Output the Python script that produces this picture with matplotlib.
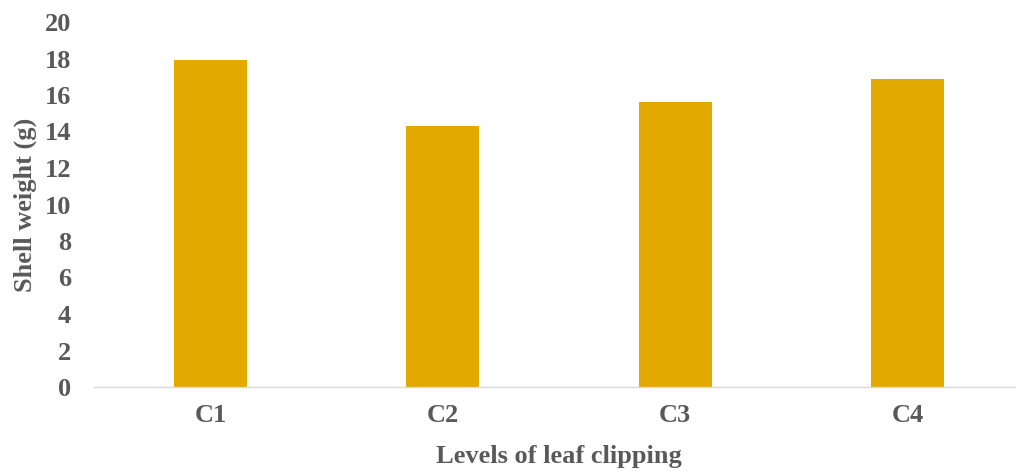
import matplotlib.pyplot as plt

# Shell weight under each leaf clipping level
levels = ['C1', 'C2', 'C3', 'C4']
shell_weight = [17.9, 14.3, 15.6, 16.9]
y_ticks = [0, 2, 4, 6, 8, 10, 12, 14, 16, 18, 20]

plt.rcParams['font.family'] = ['Liberation Serif', 'DejaVu Serif']
plt.rcParams['font.weight'] = 'bold'

text_color = '#595959'
fs = 19

fig = plt.figure(figsize=(10.16, 4.72), dpi=100)
ax = fig.add_axes([94.5 / 1016, 85 / 472, 929 / 1016, 365 / 472])

ax.bar(levels, shell_weight, width=0.315, color='#E2AA00')

ax.set_xlim(-0.5, 3.5)
ax.set_ylim(0, 20)
ax.set_yticks(y_ticks)

for side in ['top', 'right', 'left']:
    ax.spines[side].set_visible(False)
ax.spines['bottom'].set_color('#D9D9D9')
ax.spines['bottom'].set_linewidth(1.0)

ax.tick_params(axis='both', length=0, labelsize=fs, labelcolor=text_color)
ax.tick_params(axis='y', pad=17)
ax.tick_params(axis='x', pad=12)

ax.set_xlabel('Levels of leaf clipping', fontsize=fs, fontweight='bold', color=text_color, labelpad=13)
ax.set_ylabel('Shell weight (g)', fontsize=fs, fontweight='bold', color=text_color, labelpad=5)

fig.savefig('out.png', dpi=100)
